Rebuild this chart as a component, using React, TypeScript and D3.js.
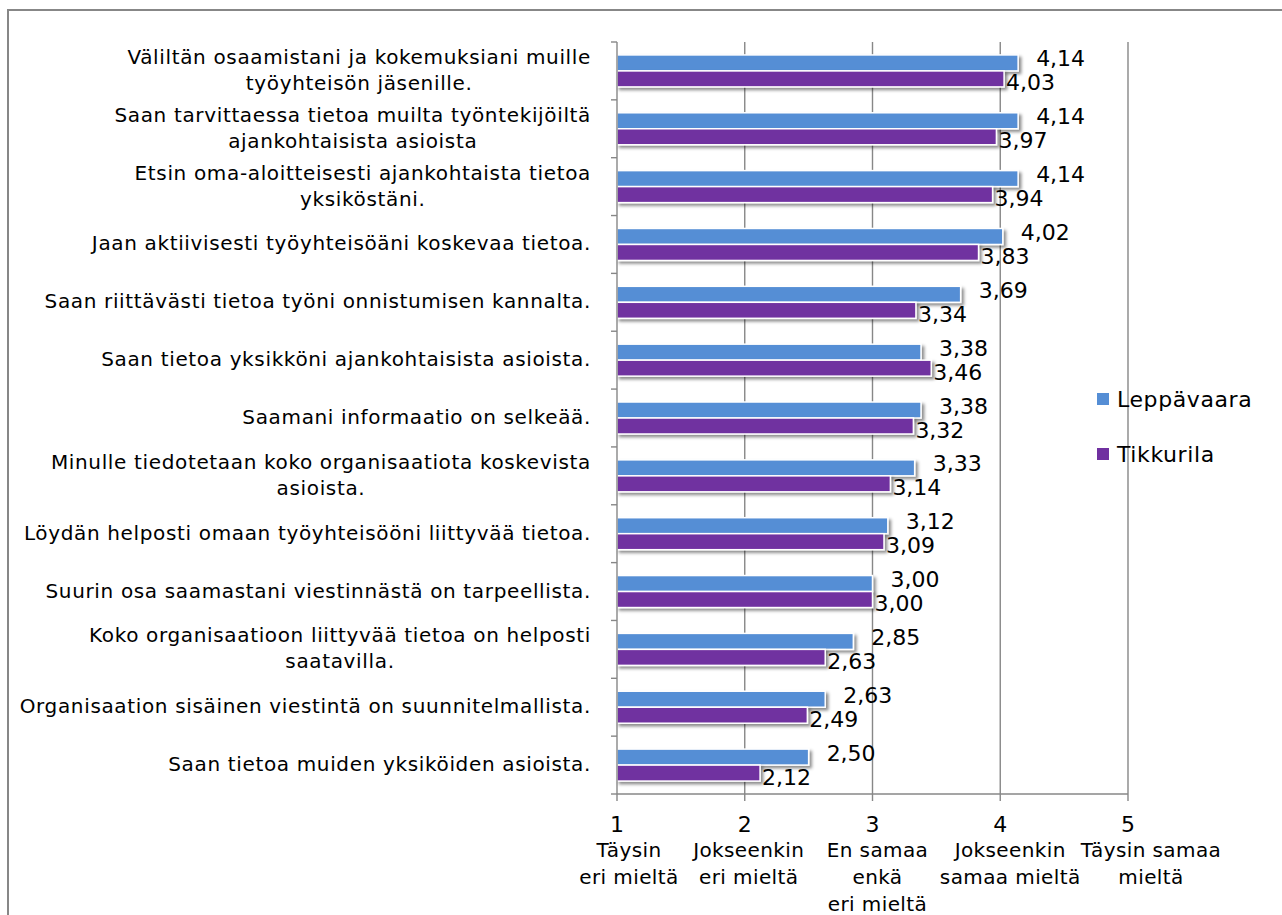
import React, { useEffect, useRef } from "react";
import * as d3 from "d3";

const categories: string[] = [
  "Väliltän osaamistani ja kokemuksiani muille\ntyöyhteisön jäsenille.",
  "Saan tarvittaessa tietoa muilta työntekijöiltä\najankohtaisista asioista",
  "Etsin oma-aloitteisesti ajankohtaista tietoa\nyksiköstäni.",
  "Jaan aktiivisesti työyhteisöäni koskevaa tietoa.",
  "Saan riittävästi tietoa työni onnistumisen kannalta.",
  "Saan tietoa yksikköni ajankohtaisista asioista.",
  "Saamani informaatio on selkeää.",
  "Minulle tiedotetaan koko organisaatiota koskevista\nasioista.",
  "Löydän helposti omaan työyhteisööni liittyvää tietoa.",
  "Suurin osa saamastani viestinnästä on tarpeellista.",
  "Koko organisaatioon liittyvää tietoa on helposti\nsaatavilla.",
  "Organisaation sisäinen viestintä on suunnitelmallista.",
  "Saan tietoa muiden yksiköiden asioista.",
];

const seriesNames: string[] = ["Leppävaara", "Tikkurila"];
const leppavaara: number[] = [4.14, 4.14, 4.14, 4.02, 3.69, 3.38, 3.38, 3.33, 3.12, 3.0, 2.85, 2.63, 2.5];
const tikkurila: number[] = [4.03, 3.97, 3.94, 3.83, 3.34, 3.46, 3.32, 3.14, 3.09, 3.0, 2.63, 2.49, 2.12];

const xTicks: number[] = [1, 2, 3, 4, 5];
const xTickTexts: string[] = [
  "Täysin\neri mieltä",
  "Jokseenkin\neri mieltä",
  "En samaa\nenkä\neri mieltä",
  "Jokseenkin\nsamaa mieltä",
  "Täysin samaa\nmieltä",
];

const COLORS = ["#558ED5", "#7030A0"];
const GRID = "#878787";
const FONT = "'DejaVu Sans', Verdana, sans-serif";

export default function App() {
  const ref = useRef<SVGSVGElement | null>(null);

  useEffect(() => {
    const svg = d3.select(ref.current);
    svg.selectAll("*").remove();

    const W = 1282, H = 915;
    const left = 617, right = 1128, top = 42, bottom = 794;

    const x = d3.scaleLinear().domain([1, 5]).range([left, right]);
    const y = d3
      .scaleBand<number>()
      .domain(d3.range(categories.length))
      .range([top, bottom])
      .paddingInner(0.447)
      .paddingOuter(0.2235);
    const ys = d3.scaleBand<string>().domain(seriesNames).range([0, y.bandwidth()]);
    const step = y.step();

    const locale = d3.formatLocale({ decimal: ",", thousands: " ", grouping: [3], currency: ["", "€"] });
    const fmt = locale.format(".2f");

    const defs = svg.append("defs");
    const f = defs.append("filter").attr("id", "shadow").attr("x", "-5%").attr("y", "-30%").attr("width", "115%").attr("height", "180%");
    f.append("feDropShadow").attr("dx", 2.5).attr("dy", 2.5).attr("stdDeviation", 1.4).attr("flood-color", "#000").attr("flood-opacity", 0.45);

    svg.append("rect").attr("width", W).attr("height", H).attr("fill", "#fff");

    // outer frame
    svg.append("path").attr("d", `M8,${H + 5}V10H${W + 5}`).attr("fill", "none").attr("stroke", "#878787").attr("stroke-width", 2);

    // gridlines
    svg
      .append("g")
      .selectAll("line")
      .data(xTicks.slice(1))
      .join("line")
      .attr("x1", (d) => x(d))
      .attr("x2", (d) => x(d))
      .attr("y1", top)
      .attr("y2", bottom)
      .attr("stroke", GRID)
      .attr("stroke-width", 1.4);

    // bars
    const series = [leppavaara, tikkurila];
    const barsG = svg.append("g");
    series.forEach((vals, si) => {
      barsG
        .append("g")
        .selectAll("rect")
        .data(vals)
        .join("rect")
        .attr("x", x(1))
        .attr("y", (d, i) => (y(i) as number) + (ys(seriesNames[si]) as number))
        .attr("width", (d) => x(d) - x(1))
        .attr("height", ys.bandwidth())
        .attr("fill", COLORS[si])
        .attr("stroke", "#fff")
        .attr("stroke-width", 1.5)
        .attr("filter", "url(#shadow)");
    });

    // axes
    svg.append("line").attr("x1", left).attr("x2", left).attr("y1", top).attr("y2", bottom).attr("stroke", GRID).attr("stroke-width", 1.4);
    svg.append("line").attr("x1", left).attr("x2", right).attr("y1", bottom).attr("y2", bottom).attr("stroke", GRID).attr("stroke-width", 1.4);
    svg
      .append("g")
      .selectAll("line")
      .data(d3.range(categories.length + 1))
      .join("line")
      .attr("x1", left - 6)
      .attr("x2", left)
      .attr("y1", (i) => top + i * step)
      .attr("y2", (i) => top + i * step)
      .attr("stroke", GRID)
      .attr("stroke-width", 1.4);
    svg
      .append("g")
      .selectAll("line")
      .data(xTicks)
      .join("line")
      .attr("x1", (d) => x(d))
      .attr("x2", (d) => x(d))
      .attr("y1", bottom)
      .attr("y2", bottom + 7)
      .attr("stroke", GRID)
      .attr("stroke-width", 1.4);

    // value labels
    const lab = svg.append("g").attr("font-family", FONT).attr("font-size", 22).attr("fill", "#000");
    series.forEach((vals, si) => {
      lab
        .append("g")
        .selectAll("text")
        .data(vals)
        .join("text")
        .attr("x", (d) => x(d) + (si === 0 ? 18 : 2))
        .attr("y", (d, i) => (y(i) as number) + y.bandwidth() / 2 + (si === 0 ? -12 : 12))
        .attr("dominant-baseline", "central")
        .text((d) => fmt(d));
    });

    // category labels
    const catG = svg.append("g").attr("font-family", FONT).attr("font-size", 20).attr("letter-spacing", "0.65px").attr("fill", "#000");
    const labelRight = 591;
    const lineH = 26;
    categories.forEach((c, i) => {
      const lines = c.split("\n");
      const cy = (y(i) as number) + y.bandwidth() / 2 - 1;
      const t = catG.append("text").attr("text-anchor", "middle");
      const spans = lines.map((ln, li) =>
        t
          .append("tspan")
          .attr("y", cy + (li - (lines.length - 1) / 2) * lineH)
          .attr("dominant-baseline", "central")
          .text(ln)
      );
      const widths = spans.map((s) => (s.node() as SVGTSpanElement).getComputedTextLength());
      const maxW = d3.max(widths) || 0;
      spans.forEach((s) => s.attr("x", labelRight - maxW / 2));
    });

    // x tick labels
    const tickDx = [12, 4, 5, 10, 23];
    const xl = svg.append("g").attr("font-family", FONT).attr("fill", "#000");
    xTicks.forEach((v, i) => {
      xl.append("text")
        .attr("x", x(v))
        .attr("y", 832)
        .attr("text-anchor", "middle")
        .attr("font-size", 22)
        .text(String(v));
      xTickTexts[i].split("\n").forEach((ln, li) => {
        xl.append("text")
          .attr("x", x(v) + tickDx[i])
          .attr("y", 857 + li * 27)
          .attr("text-anchor", "middle")
          .attr("font-size", 20)
          .attr("letter-spacing", "0.4px")
          .text(ln);
      });
    });

    // legend
    const lg = svg.append("g").attr("font-family", FONT).attr("font-size", 22).attr("letter-spacing", "0.6px");
    seriesNames.forEach((n, i) => {
      const cy = 399 + i * 55;
      lg.append("rect").attr("x", 1097).attr("y", cy - 6).attr("width", 12).attr("height", 12).attr("fill", COLORS[i]);
      lg.append("text").attr("x", 1117).attr("y", cy).attr("dominant-baseline", "central").attr("fill", "#000").text(n);
    });
  }, []);

  return (
    <svg
      ref={ref}
      width={1282}
      height={915}
      style={{ position: "absolute", left: 0, top: 0, display: "block" }}
    />
  );
}
